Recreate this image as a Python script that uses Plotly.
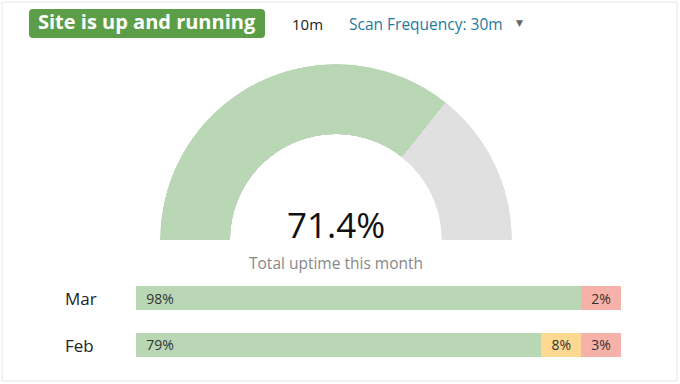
import plotly.graph_objects as go

W, H = 680, 384

# ---- data ----
uptime_total = 71.4
months = ["Mar", "Feb"]
up_pct = [98, 79]
warn_pct = [0, 8]
down_pct = [2, 3]
status_text = "Site is up and running"
interval_text = "10m"
scan_text = "Scan Frequency: 30m"
gauge_caption = "Total uptime this month"

GREEN = "#bad7b5"
GREY = "#e0e0e0"
YELLOW = "#fdd890"
RED = "#f6b2a8"
BADGE = "#5b9e47"

def px_x(x):
    return x / W

def px_y(y):
    return 1 - y / H

MIN_SEG = 8.2  # minimum visual width for small non-zero segments


def display_widths(u, w, d):
    ws = [w if w == 0 else max(w, MIN_SEG), d if d == 0 else max(d, MIN_SEG)]
    return [100 - sum(ws)] + ws


disp = [display_widths(u, w, d) for u, w, d in zip(up_pct, warn_pct, down_pct)]

fig = go.Figure()

# ---- gauge (half donut) ----
deg = 180 / 100
fig.add_trace(go.Barpolar(
    r=[1, 1],
    theta=[uptime_total * deg / 2, (uptime_total + (100 - uptime_total) / 2) * deg],
    width=[uptime_total * deg, (100 - uptime_total) * deg],
    marker=dict(color=[GREEN, GREY], line=dict(width=0)),
    hoverinfo="skip",
    subplot="polar",
    showlegend=False,
))

# ---- monthly stacked bars ----
NBSP = "\u00a0"
seg_defs = [
    ("up", up_pct, GREEN, "start", 0, NBSP * 2),
    ("warn", warn_pct, YELLOW, "middle", 1, ""),
    ("down", down_pct, RED, "middle", 2, ""),
]
for name, vals, color, anchor, idx, pad in seg_defs:
    fig.add_trace(go.Bar(
        y=months,
        x=[d[idx] for d in disp],
        orientation="h",
        marker=dict(color=color, line=dict(width=0)),
        text=[f"{pad}{v}%" if v else "" for v in vals],
        textposition="inside",
        insidetextanchor=anchor,
        textfont=dict(family="Open Sans", size=14, color="#333333"),
        constraintext="none",
        hoverinfo="skip",
        showlegend=False,
        xaxis="x",
        yaxis="y",
    ))

annotations = []
for m in months:
    annotations.append(dict(
        x=px_x(63), xref="paper", y=m, yref="y", xanchor="left", yanchor="middle",
        text=m, showarrow=False,
        font=dict(family="Open Sans", size=17, color="#222222"),
    ))


def ann(x, y, text, size, color, family="Open Sans", xanchor="center"):
    annotations.append(dict(
        x=px_x(x), y=px_y(y), xref="paper", yref="paper",
        xanchor=xanchor, yanchor="middle",
        text=text, showarrow=False,
        font=dict(family=family, size=size, color=color),
    ))


# gauge texts
ann(336, 224, f"{uptime_total}%", 35, "#111111")
ann(336, 263, gauge_caption, 15.5, "#888888")

# header texts
ann(147, 22, f"<b>{status_text}</b>", 20, "white")
ann(290, 24, interval_text, 15, "#222222", xanchor="left")
ann(347, 24, scan_text, 15.5, "#1f7a9e", xanchor="left")
ann(519, 23, "▼", 9, "#666666", family="DejaVu Sans")

# badge rounded rect path (paper coords)
x0, x1, y0, y1, r = 29, 265, 9, 38, 4
rx, ry = r / W, r / H
X0, X1, Y0, Y1 = px_x(x0), px_x(x1), px_y(y1), px_y(y0)
path = (
    f"M {X0 + rx},{Y0} L {X1 - rx},{Y0} Q {X1},{Y0} {X1},{Y0 + ry} "
    f"L {X1},{Y1 - ry} Q {X1},{Y1} {X1 - rx},{Y1} "
    f"L {X0 + rx},{Y1} Q {X0},{Y1} {X0},{Y1 - ry} "
    f"L {X0},{Y0 + ry} Q {X0},{Y0} {X0 + rx},{Y0} Z"
)

shapes = [
    dict(type="path", path=path, xref="paper", yref="paper",
         fillcolor=BADGE, line=dict(width=0), layer="below"),
    dict(type="rect", xref="paper", yref="paper",
         x0=px_x(2), x1=px_x(677), y0=px_y(381), y1=px_y(2),
         line=dict(color="#e6e6e6", width=1), fillcolor="rgba(0,0,0,0)"),
]

fig.update_layout(
    width=W, height=H,
    margin=dict(l=0, r=0, t=0, b=0),
    paper_bgcolor="white",
    plot_bgcolor="white",
    barmode="stack",
    bargap=0.49,
    font=dict(family="Open Sans"),
    polar=dict(
        domain=dict(x=[px_x(160), px_x(512)], y=[px_y(240), px_y(64)]),
        sector=[0, 180],
        hole=0.6,
        bgcolor="white",
        radialaxis=dict(visible=False, range=[0, 1]),
        angularaxis=dict(visible=False, direction="clockwise", rotation=180,
                         showgrid=False, showline=False, ticks=""),
    ),
    xaxis=dict(domain=[px_x(136), px_x(621)], range=[0, 100], visible=False,
               fixedrange=True),
    yaxis=dict(domain=[px_y(368.5), px_y(274.5)], visible=False,
               categoryorder="array", categoryarray=["Feb", "Mar"],
               fixedrange=True),
    annotations=annotations,
    shapes=shapes,
)

fig.write_html("out.html", config={"displayModeBar": False},
               post_script="document.body.style.margin='0';")
